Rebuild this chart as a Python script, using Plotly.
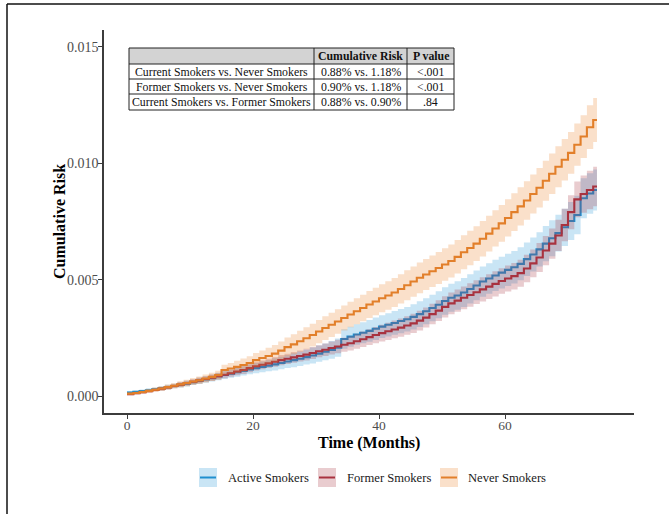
import plotly.graph_objects as go

# ---------------- data ----------------
months = list(range(0, 75))
end_month = 74.6

active_risk = [0.00015, 0.00018, 0.00021, 0.00025, 0.00029, 0.00033, 0.00038, 0.00043, 0.00048, 0.00053,
               0.00059, 0.00065, 0.00071, 0.00077, 0.00084, 0.00090, 0.00096, 0.00102, 0.00108, 0.00114,
               0.00120, 0.00125, 0.00130, 0.00136, 0.00142, 0.00148, 0.00154, 0.00160, 0.00167, 0.00174,
               0.00182, 0.00190, 0.00198, 0.00208, 0.00245, 0.00255, 0.00264, 0.00272, 0.00280, 0.00289,
               0.00298, 0.00306, 0.00314, 0.00322, 0.00330, 0.00340, 0.00352, 0.00364, 0.00378, 0.00392,
               0.00408, 0.00422, 0.00432, 0.00445, 0.00460, 0.00475, 0.00492, 0.00505, 0.00518, 0.00530,
               0.00542, 0.00553, 0.00568, 0.00588, 0.00608, 0.00630, 0.00655, 0.00678, 0.00700, 0.00725,
               0.00752, 0.00778, 0.00850, 0.00870, 0.00885]
active_ci_half = [0.00006, 0.00006, 0.00007, 0.00008, 0.00008, 0.00009, 0.00010, 0.00010, 0.00011, 0.00012,
                  0.00012, 0.00013, 0.00014, 0.00015, 0.00016, 0.00017, 0.00018, 0.00019, 0.00020, 0.00021,
                  0.00022, 0.00023, 0.00024, 0.00026, 0.00027, 0.00028, 0.00030, 0.00031, 0.00032, 0.00034,
                  0.00035, 0.00036, 0.00038, 0.00039, 0.00042, 0.00043, 0.00044, 0.00045, 0.00047, 0.00048,
                  0.00049, 0.00050, 0.00051, 0.00052, 0.00053, 0.00054, 0.00055, 0.00056, 0.00057, 0.00058,
                  0.00059, 0.00060, 0.00061, 0.00062, 0.00063, 0.00064, 0.00065, 0.00066, 0.00067, 0.00068,
                  0.00069, 0.00070, 0.00071, 0.00072, 0.00073, 0.00074, 0.00076, 0.00077, 0.00079, 0.00080,
                  0.00082, 0.00083, 0.00086, 0.00087, 0.00088]

former_risk = [0.00008, 0.00012, 0.00016, 0.00021, 0.00026, 0.00031, 0.00037, 0.00043, 0.00049, 0.00055,
               0.00061, 0.00067, 0.00073, 0.00079, 0.00085, 0.00091, 0.00098, 0.00105, 0.00112, 0.00120,
               0.00128, 0.00134, 0.00140, 0.00147, 0.00154, 0.00160, 0.00166, 0.00172, 0.00178, 0.00185,
               0.00192, 0.00199, 0.00206, 0.00213, 0.00220, 0.00227, 0.00235, 0.00244, 0.00253, 0.00262,
               0.00270, 0.00278, 0.00286, 0.00294, 0.00303, 0.00312, 0.00324, 0.00337, 0.00352, 0.00367,
               0.00383, 0.00398, 0.00410, 0.00422, 0.00434, 0.00446, 0.00458, 0.00470, 0.00482, 0.00494,
               0.00505, 0.00515, 0.00528, 0.00548, 0.00570, 0.00595, 0.00625, 0.00655, 0.00690, 0.00735,
               0.00790, 0.00845, 0.00868, 0.00885, 0.00900]
former_ci_half = [0.00005, 0.00005, 0.00006, 0.00006, 0.00007, 0.00008, 0.00008, 0.00009, 0.00010, 0.00010,
                  0.00011, 0.00012, 0.00012, 0.00013, 0.00014, 0.00015, 0.00015, 0.00016, 0.00017, 0.00018,
                  0.00018, 0.00019, 0.00020, 0.00021, 0.00022, 0.00022, 0.00023, 0.00024, 0.00025, 0.00026,
                  0.00026, 0.00027, 0.00028, 0.00029, 0.00030, 0.00031, 0.00032, 0.00033, 0.00034, 0.00035,
                  0.00036, 0.00037, 0.00038, 0.00039, 0.00040, 0.00041, 0.00042, 0.00043, 0.00044, 0.00045,
                  0.00046, 0.00047, 0.00048, 0.00049, 0.00050, 0.00051, 0.00052, 0.00053, 0.00054, 0.00055,
                  0.00056, 0.00057, 0.00058, 0.00059, 0.00060, 0.00062, 0.00063, 0.00065, 0.00067, 0.00070,
                  0.00073, 0.00077, 0.00080, 0.00083, 0.00085]

never_risk = [0.00010, 0.00013, 0.00017, 0.00022, 0.00027, 0.00032, 0.00038, 0.00044, 0.00050, 0.00056,
              0.00062, 0.00068, 0.00075, 0.00082, 0.00090, 0.00112, 0.00118, 0.00125, 0.00133, 0.00142,
              0.00154, 0.00163, 0.00172, 0.00182, 0.00195, 0.00210, 0.00222, 0.00235, 0.00248, 0.00262,
              0.00277, 0.00292, 0.00306, 0.00320, 0.00335, 0.00350, 0.00364, 0.00378, 0.00393, 0.00406,
              0.00420, 0.00432, 0.00445, 0.00460, 0.00476, 0.00492, 0.00508, 0.00522, 0.00536, 0.00550,
              0.00565, 0.00580, 0.00598, 0.00618, 0.00636, 0.00655, 0.00676, 0.00698, 0.00720, 0.00742,
              0.00765, 0.00790, 0.00815, 0.00840, 0.00868, 0.00895, 0.00925, 0.00955, 0.00985, 0.01015,
              0.01045, 0.01080, 0.01115, 0.01155, 0.01186]
never_ci_half = [0.00005, 0.00006, 0.00007, 0.00008, 0.00009, 0.00010, 0.00011, 0.00012, 0.00013, 0.00014,
                 0.00015, 0.00016, 0.00017, 0.00018, 0.00019, 0.00022, 0.00024, 0.00026, 0.00028, 0.00029,
                 0.00031, 0.00033, 0.00035, 0.00037, 0.00039, 0.00041, 0.00043, 0.00045, 0.00047, 0.00049,
                 0.00050, 0.00051, 0.00052, 0.00053, 0.00054, 0.00055, 0.00056, 0.00057, 0.00058, 0.00059,
                 0.00060, 0.00061, 0.00062, 0.00063, 0.00064, 0.00065, 0.00066, 0.00067, 0.00068, 0.00069,
                 0.00070, 0.00071, 0.00072, 0.00073, 0.00074, 0.00075, 0.00076, 0.00077, 0.00078, 0.00079,
                 0.00080, 0.00081, 0.00082, 0.00083, 0.00084, 0.00085, 0.00086, 0.00087, 0.00088, 0.00089,
                 0.00090, 0.00091, 0.00092, 0.00094, 0.00095]

group_names = ["Active Smokers", "Former Smokers", "Never Smokers"]

x_ticks = [0, 20, 40, 60]
y_ticks = [0.000, 0.005, 0.010, 0.015]

table_header = ["", "Cumulative Risk", "P value"]
table_comparisons = ["Current Smokers vs. Never Smokers",
                     "Former Smokers vs. Never Smokers",
                     "Current Smokers vs. Former Smokers"]
table_risks = ["0.88% vs. 1.18%", "0.90% vs. 1.18%", "0.88% vs. 0.90%"]
table_pvalues = ["&lt;.001", "&lt;.001", ".84"]

# ---------------- styling ----------------
FONT = "Liberation Serif, Times New Roman, serif"
W, H = 669, 514
PL, PR, PT, PB = 104, 634, 30, 413  # plot area in pixels

line_colors = ["#1f8fcf", "#a8323f", "#e27f2a"]
fill_colors = ["rgba(40,150,215,0.25)", "rgba(168,50,62,0.25)", "rgba(235,130,45,0.25)"]


def px_x(px):
    return (px - PL) / (PR - PL)


def px_y(py):
    return (PB - py) / (PB - PT)


fig = go.Figure()

series = [(active_risk, active_ci_half), (former_risk, former_ci_half), (never_risk, never_ci_half)]
xs = months + [end_month]
for i, (risk, half) in enumerate(series):
    upper = [r + h for r, h in zip(risk, half)]
    lower = [max(r - h, 0.0) for r, h in zip(risk, half)]
    upper = upper + [upper[-1]]
    lower = lower + [lower[-1]]
    ys = risk + [risk[-1]]
    fig.add_trace(go.Scatter(x=xs, y=upper, mode="lines", line=dict(width=0, shape="hv"),
                             showlegend=False, hoverinfo="skip"))
    fig.add_trace(go.Scatter(x=xs, y=lower, mode="lines", line=dict(width=0, shape="hv"),
                             fill="tonexty", fillcolor=fill_colors[i], showlegend=False, hoverinfo="skip"))
    fig.add_trace(go.Scatter(x=xs, y=ys, mode="lines", name=group_names[i],
                             line=dict(color=line_colors[i], width=2.1, shape="hv"), showlegend=False))

shapes = []
annotations = []

# ---- table ----
col_edges = [129, 314, 407, 454]
row_edges = [48, 64, 79, 94, 110]
shapes.append(dict(type="rect", xref="paper", yref="paper",
                   x0=px_x(col_edges[0]), x1=px_x(col_edges[-1]),
                   y0=px_y(row_edges[1]), y1=px_y(row_edges[0]),
                   fillcolor="#d3d3d3", line=dict(width=0), layer="above"))
for cx in col_edges:
    shapes.append(dict(type="line", xref="paper", yref="paper",
                       x0=px_x(cx), x1=px_x(cx), y0=px_y(row_edges[0]), y1=px_y(row_edges[-1]),
                       line=dict(color="#222222", width=1)))
for ry in row_edges:
    shapes.append(dict(type="line", xref="paper", yref="paper",
                       x0=px_x(col_edges[0]), x1=px_x(col_edges[-1]), y0=px_y(ry), y1=px_y(ry),
                       line=dict(color="#222222", width=1)))

rows = [table_header] + [[a, b, c] for a, b, c in zip(table_comparisons, table_risks, table_pvalues)]
for r, row in enumerate(rows):
    yc = px_y((row_edges[r] + row_edges[r + 1]) / 2)
    for c, txt in enumerate(row):
        if not txt:
            continue
        xc = px_x((col_edges[c] + col_edges[c + 1]) / 2)
        label = f"<b>{txt}</b>" if r == 0 else txt
        annotations.append(dict(text=label, xref="paper", yref="paper", x=xc, y=yc,
                                xanchor="center", yanchor="middle", showarrow=False,
                                font=dict(family=FONT, size=11.8, color="#111111")))

# ---- custom legend ----
legend_patch_x = [199, 318, 440]
legend_text_x = [226, 345, 466]
ly0, ly1, lyc = 468, 487, 477.5
for i, name in enumerate(group_names):
    x0 = legend_patch_x[i]
    shapes.append(dict(type="rect", xref="paper", yref="paper",
                       x0=px_x(x0), x1=px_x(x0 + 18), y0=px_y(ly1), y1=px_y(ly0),
                       fillcolor=fill_colors[i], line=dict(width=0)))
    shapes.append(dict(type="line", xref="paper", yref="paper",
                       x0=px_x(x0 + 1), x1=px_x(x0 + 17), y0=px_y(lyc), y1=px_y(lyc),
                       line=dict(color=line_colors[i], width=2)))
    annotations.append(dict(text=name, xref="paper", yref="paper", x=px_x(legend_text_x[i]), y=px_y(lyc),
                            xanchor="left", yanchor="middle", showarrow=False,
                            font=dict(family=FONT, size=12.6, color="#1a1a1a")))

# ---- outer frame (top and left edges) ----
shapes.append(dict(type="line", xref="paper", yref="paper", x0=px_x(7), x1=px_x(669),
                   y0=px_y(4), y1=px_y(4), line=dict(color="#111111", width=1.5)))
shapes.append(dict(type="line", xref="paper", yref="paper", x0=px_x(7), x1=px_x(7),
                   y0=px_y(4), y1=px_y(514), line=dict(color="#111111", width=1.5)))

# axis titles
annotations.append(dict(text="<b>Time (Months)</b>", xref="paper", yref="paper",
                        x=px_x(369), y=px_y(443), xanchor="center", yanchor="middle", showarrow=False,
                        font=dict(family=FONT, size=16, color="#000000")))
annotations.append(dict(text="<b>Cumulative Risk</b>", xref="paper", yref="paper",
                        x=px_x(59), y=px_y(222), xanchor="center", yanchor="middle", showarrow=False,
                        textangle=-90, font=dict(family=FONT, size=16, color="#000000")))

x0_val, px_per_month = 127, 6.3
x_range = [(PL - x0_val) / px_per_month, (PR - x0_val) / px_per_month]
y0_px, px_per_unit = 396, 23.27 / 0.001
y_range = [-(PB - y0_px) / px_per_unit, (y0_px - PT) / px_per_unit]

fig.update_layout(
    width=W, height=H,
    margin=dict(l=PL, r=W - PR, t=PT, b=H - PB, pad=0),
    plot_bgcolor="white", paper_bgcolor="white",
    showlegend=False,
    shapes=shapes, annotations=annotations,
    font=dict(family=FONT),
    xaxis=dict(range=x_range, tickvals=x_ticks, ticktext=[str(v) for v in x_ticks],
               showgrid=False, zeroline=False, showline=True, linecolor="#3c3c3c", linewidth=1.6,
               ticks="outside", ticklen=4, tickwidth=1.2, tickcolor="#3c3c3c", ticklabelstandoff=-5,
               tickfont=dict(family=FONT, size=13.5, color="#4d4d4d")),
    yaxis=dict(range=y_range, tickvals=y_ticks, ticktext=[f"{v:.3f}" for v in y_ticks],
               showgrid=False, zeroline=False, showline=True, linecolor="#3c3c3c", linewidth=1.6,
               ticks="outside", ticklen=4, tickwidth=1.2, tickcolor="#3c3c3c", ticklabelstandoff=-3,
               tickfont=dict(family=FONT, size=14, color="#4d4d4d")),
)

fig.write_html("out.html", config={"displayModeBar": False},
               post_script="document.body.style.margin='0';")
